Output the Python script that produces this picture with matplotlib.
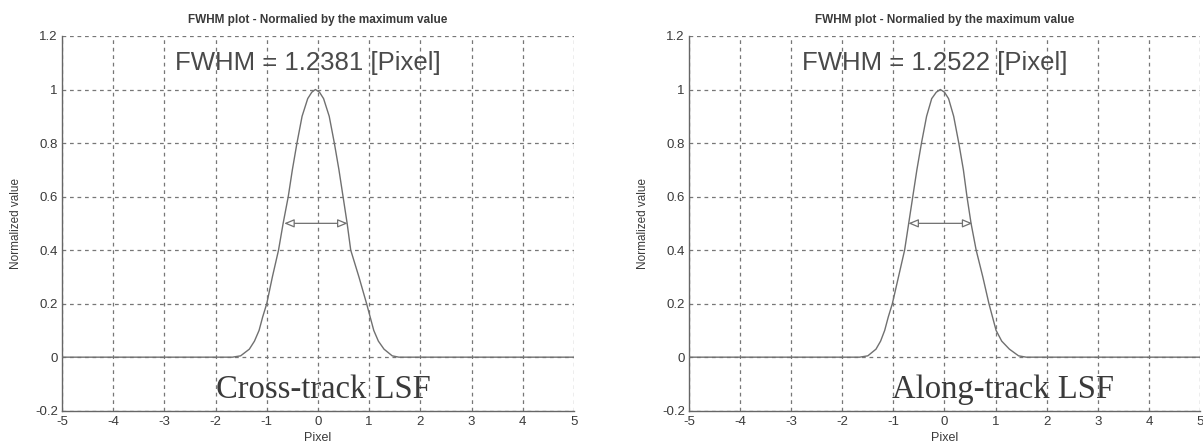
import matplotlib
matplotlib.use("Agg")
import matplotlib.pyplot as plt
import numpy as np

# line spread functions, normalised to the peak
cross_x = [-5, -1.67, -1.51, -1.34, -1.24, -1.15, -1.08, -1.0, -0.89, -0.77, -0.68, -0.58,
           -0.5, -0.41, -0.31, -0.2, -0.12, -0.05, 0.03, 0.11, 0.22, 0.32, 0.41, 0.49,
           0.57, 0.64, 0.8, 0.95, 1.02, 1.09, 1.18, 1.29, 1.45, 1.58, 5]
cross_y = [0, 0, 0.005, 0.03, 0.06, 0.1, 0.15, 0.2, 0.3, 0.4, 0.5, 0.6,
           0.7, 0.8, 0.9, 0.966, 0.99, 1.0, 0.99, 0.966, 0.9, 0.8, 0.7, 0.6,
           0.5, 0.4, 0.3, 0.2, 0.15, 0.1, 0.06, 0.03, 0.005, 0, 0]

along_x = [-5, -1.66, -1.5, -1.34, -1.25, -1.17, -1.1, -1.02, -0.9, -0.78, -0.7, -0.62,
           -0.54, -0.45, -0.35, -0.25, -0.16, -0.08, 0.0, 0.08, 0.18, 0.28, 0.37, 0.44,
           0.52, 0.62, 0.75, 0.87, 0.94, 1.01, 1.12, 1.27, 1.45, 1.6, 5]
along_y = [0, 0, 0.005, 0.03, 0.06, 0.1, 0.15, 0.2, 0.3, 0.4, 0.5, 0.6,
           0.7, 0.8, 0.9, 0.966, 0.99, 1.0, 0.99, 0.966, 0.9, 0.8, 0.7, 0.6,
           0.5, 0.4, 0.3, 0.2, 0.15, 0.1, 0.06, 0.03, 0.005, 0, 0]

fwhm = [1.2381, 1.2522]
fwhm_center = [-0.04, -0.08]
names = ["Cross-track LSF", "Along-track LSF"]
name_x = [0.1, 1.14]

xticks = np.arange(-5, 6, 1)
yticks = np.round(np.arange(-0.2, 1.21, 0.2), 1)

plt.rcParams['font.family'] = ['Liberation Sans', 'DejaVu Sans']
ink = "#3a3a3a"
line_c = "#707070"

fig = plt.figure(figsize=(12.03, 4.47), dpi=100)
positions = [[0.0515, 0.0812, 0.4256, 0.8383], [0.5727, 0.0812, 0.4248, 0.8383]]
curves = [(cross_x, cross_y), (along_x, along_y)]

for i in range(2):
    ax = fig.add_axes(positions[i])
    xs, ys = curves[i]
    ax.plot(xs, ys, color=line_c, lw=1.0, zorder=3)
    ax.set_xlim(-5, 5)
    ax.set_ylim(-0.2, 1.2)
    ax.set_xticks(xticks)
    ax.set_yticks(yticks)
    ax.set_xticklabels([str(t) for t in xticks])
    ax.set_yticklabels(["%g" % t for t in yticks])
    ax.tick_params(length=0, labelsize=9.5, colors=ink, pad=3)
    ax.tick_params(axis="x", pad=4)
    ax.grid(True, color="#777777", ls=(0, (3, 3)), lw=0.9)
    for s in ["top", "right"]:
        ax.spines[s].set_visible(False)
    for s in ["left", "bottom"]:
        ax.spines[s].set_color("#666666")
        ax.spines[s].set_linewidth(1.0)
    ax.set_title("FWHM plot - Normalied by the maximum value", fontsize=8.5,
                 color=ink, pad=9, fontweight="bold")
    ax.set_xlabel("Pixel", fontsize=9, color=ink, labelpad=3)
    ax.set_ylabel("Normalized value", fontsize=8.5, color=ink, labelpad=9)

    # half-maximum width arrow
    c = fwhm_center[i]
    ax.annotate("", xy=(c + fwhm[i] / 2, 0.5), xytext=(c - fwhm[i] / 2, 0.5),
                arrowprops=dict(arrowstyle="<|-|>,head_length=0.6,head_width=0.25",
                                fc="white", ec="#707070", lw=0.9,
                                shrinkA=0, shrinkB=0), zorder=4)

    ax.text(-0.2, 1.1, "FWHM = %.4f [Pixel]" % fwhm[i], fontsize=18.5, color="#4a4a4a",
            ha="center", va="center", zorder=5)
    ax.text(name_x[i], -0.12, names[i], fontsize=23.5, color=ink, ha="center",
            va="center", family=["Liberation Serif", "DejaVu Serif"], zorder=5)

fig.savefig("out.png", dpi=100)
